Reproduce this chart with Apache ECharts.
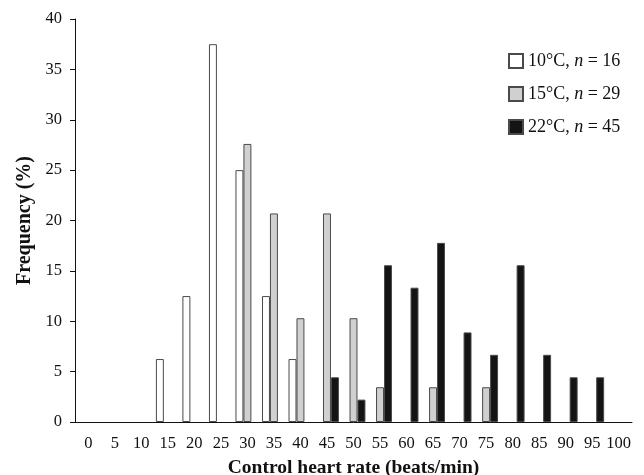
<!DOCTYPE html>
<html>
<head>
    <meta charset="utf-8">
    <title>Control heart rate</title>
    <script type="text/javascript" src="https://cdn.jsdelivr.net/npm/echarts@6/dist/echarts.min.js"></script>
</head>
<body style="margin:0;">
    <div id="main" style="width:644px;height:475px;"></div>
    <script type="text/javascript">
        // heart rate bins (beats/min)
        var rates = ['0','5','10','15','20','25','30','35','40','45','50','55','60','65','70','75','80','85','90','95','100'];
        var temps = ['10°C', '15°C', '22°C'];
        var counts = [16, 29, 45];
        // frequency (%) per bin, null = no bar
        var freq10 = [null,null,null,6.25,12.5,37.5,25,12.5,6.25,null,null,null,null,null,null,null,null,null,null,null,null];
        var freq15 = [null,null,null,null,null,null,27.6,20.7,10.3,20.7,10.3,3.45,null,3.45,null,3.45,null,null,null,null,null];
        var freq22 = [null,null,null,null,null,null,null,null,null,4.44,2.22,15.56,13.33,17.78,8.89,6.67,15.56,6.67,4.44,4.44,null];
        var colors = ['#ffffff', '#d0d0d0', '#141414'];

        var serif = '"Liberation Serif", "DejaVu Serif", serif';
        var chart = echarts.init(document.getElementById('main'));

        var allData = [freq10, freq15, freq22];
        var series = [];
        for (var i = 0; i < 3; i++) {
            series.push({
                name: temps[i],
                type: 'bar',
                data: allData[i],
                barGap: '0%',
                barCategoryGap: '10%',
                itemStyle: { color: colors[i], borderColor: '#4a4a4a', borderWidth: 1 }
            });
        }

        chart.setOption({
            animation: false,
            textStyle: { fontFamily: serif },
            grid: { left: 75, right: 12, top: 19, bottom: 53, containLabel: false, outerBoundsMode: 'none' },
            legend: {
                orient: 'vertical',
                left: 503,
                top: 47,
                itemWidth: 14,
                itemHeight: 14,
                itemGap: 15,
                icon: 'rect',
                data: temps,
                formatter: function (name) {
                    var k = temps.indexOf(name);
                    return '{t|' + name + ', }{i|n}{t| = ' + counts[k] + '}';
                },
                textStyle: {
                    rich: {
                        t: { fontFamily: serif, fontSize: 18, color: '#111' },
                        i: { fontFamily: serif, fontSize: 18, fontStyle: 'italic', color: '#111' }
                    }
                }
            },
            xAxis: {
                type: 'category',
                data: rates,
                name: 'Control heart rate (beats/min)',
                nameLocation: 'middle',
                nameGap: 36,
                nameTextStyle: { fontFamily: serif, fontSize: 19.5, fontWeight: 'bold', color: '#111' },
                axisLine: { lineStyle: { color: '#111', width: 1 } },
                axisTick: { length: 5, lineStyle: { color: '#111' } },
                axisLabel: { fontFamily: serif, fontSize: 16.5, color: '#111', margin: 13, interval: 0 }
            },
            yAxis: {
                type: 'value',
                min: 0,
                max: 40,
                interval: 5,
                name: 'Frequency (%)',
                nameLocation: 'middle',
                nameGap: 35,
                nameTextStyle: { fontFamily: serif, fontSize: 20, fontWeight: 'bold', color: '#111' },
                splitLine: { show: false },
                axisLine: { show: true, lineStyle: { color: '#111', width: 1 } },
                axisTick: { show: true, length: 5, lineStyle: { color: '#111' } },
                axisLabel: { fontFamily: serif, fontSize: 16.5, color: '#111', margin: 13 }
            },
            series: series
        });
    </script>
</body>
</html>
